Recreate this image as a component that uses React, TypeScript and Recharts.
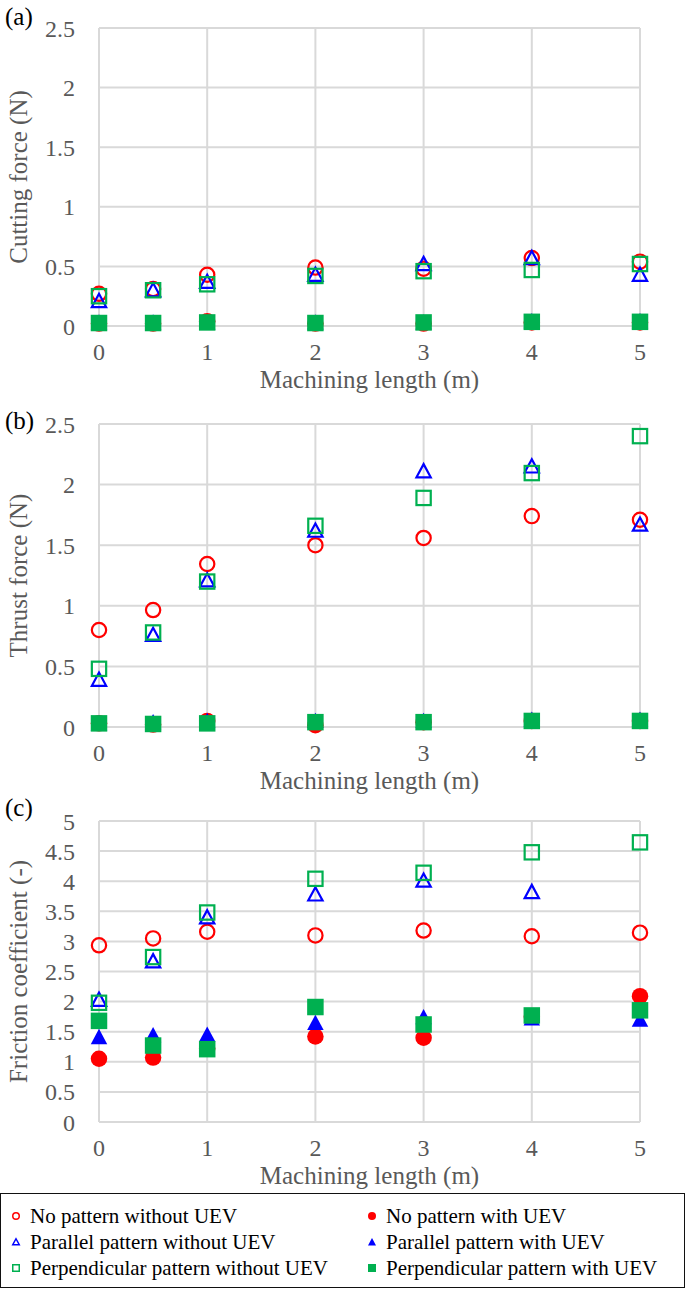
import React from "react";
import { ScatterChart, Scatter, XAxis, YAxis, CartesianGrid } from "recharts";

// machining length (m) where each measurement was taken
const lengths = [0, 0.5, 1, 2, 3, 4, 5];
const lengthTicks = [0, 1, 2, 3, 4, 5];
const forceTicks = [0, 0.5, 1, 1.5, 2, 2.5];
const frictionTicks = [0, 0.5, 1, 1.5, 2, 2.5, 3, 3.5, 4, 4.5, 5];

// (a) cutting force (N)
const cutNoPatternWithout = [0.27, 0.31, 0.43, 0.49, 0.48, 0.57, 0.54];
const cutNoPatternWith = [0.02, 0.02, 0.04, 0.02, 0.02, 0.03, 0.03];
const cutParallelWithout = [0.21, 0.3, 0.37, 0.43, 0.52, 0.57, 0.43];
const cutParallelWith = [0.03, 0.03, 0.03, 0.03, 0.03, 0.04, 0.04];
const cutPerpWithout = [0.25, 0.3, 0.35, 0.42, 0.46, 0.47, 0.52];
const cutPerpWith = [0.025, 0.025, 0.03, 0.025, 0.03, 0.035, 0.035];

// (b) thrust force (N)
const thrNoPatternWithout = [0.8, 0.965, 1.345, 1.5, 1.56, 1.74, 1.71];
const thrNoPatternWith = [0.03, 0.02, 0.05, 0.015, 0.04, 0.05, 0.05];
const thrParallelWithout = [0.39, 0.76, 1.21, 1.62, 2.11, 2.15, 1.67];
const thrParallelWith = [0.03, 0.04, 0.05, 0.05, 0.05, 0.06, 0.06];
const thrPerpWithout = [0.48, 0.78, 1.2, 1.66, 1.89, 2.095, 2.4];
const thrPerpWith = [0.03, 0.025, 0.03, 0.04, 0.04, 0.05, 0.05];

// (c) friction coefficient (-)
const friNoPatternWithout = [2.935, 3.05, 3.16, 3.1, 3.18, 3.085, 3.145];
const friNoPatternWith = [1.05, 1.07, 1.22, 1.42, 1.4, 1.75, 2.09];
const friParallelWithout = [2.03, 2.67, 3.4, 3.78, 4.01, 3.82, null];
const friParallelWith = [1.41, 1.44, 1.45, 1.645, 1.74, 1.72, 1.7];
const friPerpWithout = [1.98, 2.74, 3.48, 4.04, 4.14, 4.48, 4.645];
const friPerpWith = [1.68, 1.27, 1.21, 1.91, 1.62, 1.77, 1.855];

const seriesNames = [
  "No pattern without UEV",
  "No pattern with UEV",
  "Parallel pattern without UEV",
  "Parallel pattern with UEV",
  "Perpendicular pattern without UEV",
  "Perpendicular pattern with UEV",
];

type Kind = "circle" | "triangle" | "square";

const RED = "#ff0000";
const BLUE = "#0000ff";
const GREEN = "#00b050";
const GRID = "#d9d9d9";
const TEXT = "#595959";
const FONT = "'Liberation Serif', 'Times New Roman', serif";

const markerStyles: { kind: Kind; color: string; filled: boolean }[] = [
  { kind: "circle", color: RED, filled: false },
  { kind: "circle", color: RED, filled: true },
  { kind: "triangle", color: BLUE, filled: false },
  { kind: "triangle", color: BLUE, filled: true },
  { kind: "square", color: GREEN, filled: false },
  { kind: "square", color: GREEN, filled: true },
];

function Marker({ cx, cy, kind, color, filled, size }: any) {
  if (cx == null || cy == null) return null;
  const sw = filled ? 0 : size > 10 ? 2.2 : 1.5;
  const h = (size - sw) / 2;
  const common = {
    fill: filled ? color : "none",
    stroke: filled ? "none" : color,
    strokeWidth: sw,
  };
  if (kind === "circle") return <circle cx={cx} cy={cy} r={h} {...common} />;
  if (kind === "square")
    return <rect x={cx - h} y={cy - h} width={h * 2} height={h * 2} {...common} />;
  const pts = `${cx},${cy - h} ${cx + h},${cy + h * 0.85} ${cx - h},${cy + h * 0.85}`;
  return <polygon points={pts} {...common} strokeLinejoin="miter" />;
}

const toPoints = (vals: (number | null)[]) =>
  lengths
    .map((x, i) => ({ x, y: vals[i] }))
    .filter((p) => p.y != null);

const W = 685;
const H = 397;
const X_AXIS_H = 30;

function Panel({ tag, tagY, yTitle, yMax, yTicks, values, top, marginTop, marginBottom }: any) {
  const plotTop = marginTop;
  const plotBottom = H - marginBottom;
  return (
    <div style={{ position: "absolute", left: 0, top, width: W, height: H }}>
      <ScatterChart
        width={W}
        height={H}
        margin={{ top: marginTop, right: 45, bottom: marginBottom - X_AXIS_H, left: 0 }}
      >
        <CartesianGrid stroke={GRID} strokeWidth={2} />
        <XAxis
          type="number"
          dataKey="x"
          domain={[0, 5]}
          ticks={lengthTicks}
          interval={0}
          height={X_AXIS_H}
          axisLine={false}
          tickLine={false}
          tickSize={0}
          tickMargin={17}
          tick={{ fill: TEXT, fontSize: 24, fontFamily: FONT }}
          label={() => (
            <text
              x={(99 + W - 45) / 2}
              y={plotBottom + 62}
              textAnchor="middle"
              fill={TEXT}
              fontSize={25}
              fontFamily={FONT}
            >
              Machining length (m)
            </text>
          )}
        />
        <YAxis
          type="number"
          dataKey="y"
          domain={[0, yMax]}
          ticks={yTicks}
          interval={0}
          width={99}
          axisLine={false}
          tickLine={false}
          tickSize={0}
          tickMargin={24}
          tick={{ fill: TEXT, fontSize: 24, fontFamily: FONT }}
          label={() => (
            <g>
              <text x={5} y={tagY} fill="#000" fontSize={25} fontFamily={FONT}>
                {tag}
              </text>
              <text
                x={18}
                y={(plotTop + plotBottom) / 2}
                transform={`rotate(-90 18 ${(plotTop + plotBottom) / 2})`}
                textAnchor="middle"
                dominantBaseline="central"
                fill={TEXT}
                fontSize={25}
                fontFamily={FONT}
              >
                {yTitle}
              </text>
            </g>
          )}
        />
        {values.map((vals: (number | null)[], i: number) => {
          const st = markerStyles[i];
          return (
            <Scatter
              key={seriesNames[i]}
              name={seriesNames[i]}
              data={toPoints(vals)}
              isAnimationActive={false}
              shape={(p: any) => (
                <Marker cx={p.cx} cy={p.cy} kind={st.kind} color={st.color} filled={st.filled} size={16.5} />
              )}
            />
          );
        })}
      </ScatterChart>
    </div>
  );
}

function LegendBox() {
  const rows = [
    [0, 1],
    [2, 3],
    [4, 5],
  ];
  return (
    <div
      style={{
        position: "absolute",
        left: 0,
        top: 1193,
        width: W,
        height: 95,
        boxSizing: "border-box",
        border: "1.5px solid #111",
        fontFamily: FONT,
        fontSize: 21,
        color: "#000",
      }}
    >
      {rows.map((row, r) =>
        row.map((idx, c) => {
          const st = markerStyles[idx];
          return (
            <div
              key={idx}
              style={{
                position: "absolute",
                left: c === 0 ? 8 : 364,
                top: 9 + r * 26,
                height: 26,
                display: "flex",
                alignItems: "center",
                whiteSpace: "nowrap",
              }}
            >
              <svg width={14} height={14} style={{ marginRight: 7 }}>
                <Marker cx={7} cy={7} kind={st.kind} color={st.color} filled={st.filled} size={8} />
              </svg>
              <span>{seriesNames[idx]}</span>
            </div>
          );
        })
      )}
    </div>
  );
}

export default function App() {
  return (
    <div
      style={{
        position: "absolute",
        left: 0,
        top: 0,
        width: W,
        height: 1289,
        background: "#fff",
        fontFamily: FONT,
      }}
    >
      <Panel
        tag="(a)"
        tagY={25}
        yTitle="Cutting force (N)"
        yMax={2.5}
        yTicks={forceTicks}
        top={0}
        marginTop={28}
        marginBottom={71}
        values={[
          cutNoPatternWithout,
          cutNoPatternWith,
          cutParallelWithout,
          cutParallelWith,
          cutPerpWithout,
          cutPerpWith,
        ]}
      />
      <Panel
        tag="(b)"
        tagY={32}
        yTitle="Thrust force (N)"
        yMax={2.5}
        yTicks={forceTicks}
        top={397}
        marginTop={27}
        marginBottom={67}
        values={[
          thrNoPatternWithout,
          thrNoPatternWith,
          thrParallelWithout,
          thrParallelWith,
          thrPerpWithout,
          thrPerpWith,
        ]}
      />
      <Panel
        tag="(c)"
        tagY={22}
        yTitle="Friction coefficient (-)"
        yMax={5}
        yTicks={frictionTicks}
        top={794}
        marginTop={27}
        marginBottom={69}
        values={[
          friNoPatternWithout,
          friNoPatternWith,
          friParallelWithout,
          friParallelWith,
          friPerpWithout,
          friPerpWith,
        ]}
      />
      <LegendBox />
    </div>
  );
}
